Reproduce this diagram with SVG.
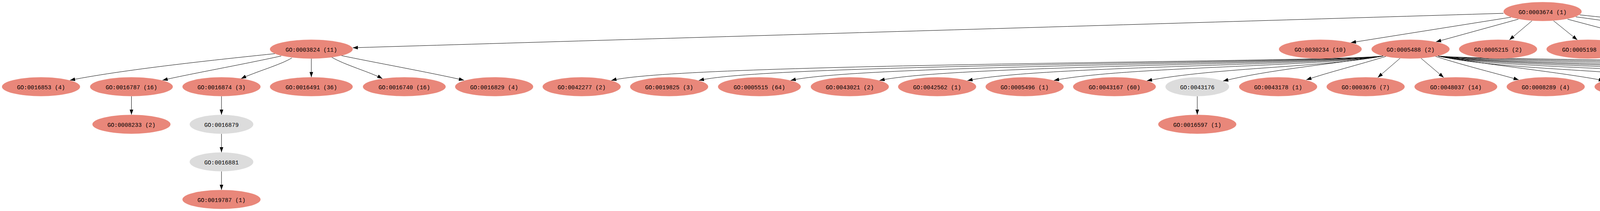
<svg xmlns="http://www.w3.org/2000/svg" width="6105" height="539" viewBox="0 0 6105 539">
<style>
.n ellipse{fill:#E9877A;stroke:none}
.g ellipse{fill:#DCDCDC;stroke:none}
text{font-family:"Liberation Mono","DejaVu Sans Mono",monospace;font-size:14.67px;text-anchor:middle;fill:#000}
#edges path{fill:none;stroke:#000;stroke-width:1;marker-end:url(#ah)}
</style>
<defs>
<marker id="ah" markerUnits="userSpaceOnUse" markerWidth="14" markerHeight="10" refX="13.3" refY="4.67" orient="auto"><path d="M0,0 L13.3,4.67 L0,9.33 z" fill="#000"/></marker>
</defs>
<rect width="6105" height="539" fill="#fff"/>
<g id="edges">
<path d="M3849,34 C3000,60 1800,95 903,122"/>
<path d="M3868,44 L3458,109"/>
<path d="M3887,49 L3676,107"/>
<path d="M3922,53 L3864,102"/>
<path d="M3977,53 L4038,102"/>
<path d="M4013,49 L4232,107"/>
<path d="M4034,43 C4200,65 4380,95 4446,109"/>
<path d="M4044,38 C4250,60 4550,85 4672,108"/>
<path d="M704,137 C600,148 330,175 179,205"/>
<path d="M720,143 C620,165 480,190 416,205"/>
<path d="M747,148 C720,165 650,185 617,201"/>
<path d="M797,150 L797,197"/>
<path d="M849,146 C880,165 950,185 979,201"/>
<path d="M874,142 C950,158 1100,185 1188,205"/>
<path d="M336.5,246 L336.5,293"/>
<path d="M567,246 L567,293"/>
<path d="M567,342 L567,389"/>
<path d="M567,438 L567,485"/>
<path d="M3065,246 L3065,293"/>
<path d="M3541,143 C3391,160 1745,160 1565,205.6"/>
<path d="M3541,143 C3391,162 1969,162 1789,205.6"/>
<path d="M3541,143 C3391,164 2204,164 2024,205.5"/>
<path d="M3541,143 C3391,166 2431,166 2251.5,205.6"/>
<path d="M3541,143 C3391,168 2656,168 2476.5,206"/>
<path d="M3541,143 C3391,170 2878,170 2698,205.4"/>
<path d="M3541,143 C3391,172 3116,172 2936,206.3"/>
<path d="M3541,143 C3400,165 3250,178 3131,207"/>
<path d="M3548,144 C3480,165 3400,185 3344,204"/>
<path d="M3584,149 L3527,198"/>
<path d="M3638,149 L3696,198"/>
<path d="M3675,144 C3750,168 3840,190 3888,204"/>
<path d="M3681,143 C3800,165 4000,185 4106,206"/>
<path d="M3681,143 C3831,178 4160,178 4340,206.5"/>
<path d="M3681,143 C3831,176 4384,176 4564,206.5"/>
<path d="M3681,143 C3831,174 4608,174 4788,206.5"/>
<path d="M3681,143 C3831,172 4832,172 5012,206.5"/>
<path d="M3681,143 C3831,170 5057,170 5237.5,206"/>
<path d="M3681,143 C3831,166 5285,166 5465.5,205.4"/>
<path d="M3681,143 C3831,162 5519,162 5699,206"/>
<path d="M3681,143 C3831,158 5741,158 5921.5,206.2"/>
</g>
<g id="n_0003674" class="n"><ellipse cx="3949" cy="29.5" rx="100" ry="24.2"/><text x="3949" y="35.5">GO:0003674 (1)</text></g>
<g id="n_0003824" class="n"><ellipse cx="797" cy="125.5" rx="106" ry="24.2"/><text x="797" y="131.5">GO:0003824 (11)</text></g>
<g id="n_0030234" class="n"><ellipse cx="3380" cy="125.5" rx="106" ry="24.2"/><text x="3380" y="131.5">GO:0030234 (10)</text></g>
<g id="n_0005488" class="n"><ellipse cx="3611" cy="125.5" rx="100" ry="24.2"/><text x="3611" y="131.5">GO:0005488 (2)</text></g>
<g id="n_0005215" class="n"><ellipse cx="3835" cy="125.5" rx="100" ry="24.2"/><text x="3835" y="131.5">GO:0005215 (2)</text></g>
<g id="n_0005198" class="n"><ellipse cx="4065" cy="125.5" rx="106" ry="24.2"/><text x="4065" y="131.5">GO:0005198 (11)</text></g>
<g id="n_0016530" class="n"><ellipse cx="4296" cy="125.5" rx="100" ry="24.2"/><text x="4296" y="131.5">GO:0016530 (1)</text></g>
<g id="n_0003774" class="n"><ellipse cx="4520" cy="125.5" rx="100" ry="24.2"/><text x="4520" y="131.5">GO:0003774 (1)</text></g>
<g id="n_0016209" class="n"><ellipse cx="4744" cy="125.5" rx="100" ry="24.2"/><text x="4744" y="131.5">GO:0016209 (8)</text></g>
<g id="n_0016853" class="n"><ellipse cx="105" cy="221.5" rx="100" ry="24.2"/><text x="105" y="227.5">GO:0016853 (4)</text></g>
<g id="n_0016787" class="n"><ellipse cx="336.5" cy="221.5" rx="106" ry="24.2"/><text x="336.5" y="227.5">GO:0016787 (16)</text></g>
<g id="n_0016874" class="n"><ellipse cx="567" cy="221.5" rx="100" ry="24.2"/><text x="567" y="227.5">GO:0016874 (3)</text></g>
<g id="n_0016491" class="n"><ellipse cx="797" cy="221.5" rx="106" ry="24.2"/><text x="797" y="227.5">GO:0016491 (36)</text></g>
<g id="n_0016740" class="n"><ellipse cx="1035" cy="221.5" rx="106" ry="24.2"/><text x="1035" y="227.5">GO:0016740 (16)</text></g>
<g id="n_0016829" class="n"><ellipse cx="1265" cy="221.5" rx="100" ry="24.2"/><text x="1265" y="227.5">GO:0016829 (4)</text></g>
<g id="n_0042277" class="n"><ellipse cx="1489" cy="221.5" rx="100" ry="24.2"/><text x="1489" y="227.5">GO:0042277 (2)</text></g>
<g id="n_0019825" class="n"><ellipse cx="1713" cy="221.5" rx="100" ry="24.2"/><text x="1713" y="227.5">GO:0019825 (3)</text></g>
<g id="n_0005515" class="n"><ellipse cx="1944" cy="221.5" rx="106" ry="24.2"/><text x="1944" y="227.5">GO:0005515 (64)</text></g>
<g id="n_0043021" class="n"><ellipse cx="2175.5" cy="221.5" rx="100" ry="24.2"/><text x="2175.5" y="227.5">GO:0043021 (2)</text></g>
<g id="n_0042562" class="n"><ellipse cx="2399" cy="221.5" rx="100" ry="24.2"/><text x="2399" y="227.5">GO:0042562 (1)</text></g>
<g id="n_0005496" class="n"><ellipse cx="2623" cy="221.5" rx="100" ry="24.2"/><text x="2623" y="227.5">GO:0005496 (1)</text></g>
<g id="n_0043167" class="n"><ellipse cx="2853" cy="221.5" rx="106" ry="24.2"/><text x="2853" y="227.5">GO:0043167 (60)</text></g>
<g id="n_0043176" class="g"><ellipse cx="3065" cy="221.5" rx="81.5" ry="24.2"/><text x="3065" y="227.5">GO:0043176</text></g>
<g id="n_0043178" class="n"><ellipse cx="3272" cy="221.5" rx="100" ry="24.2"/><text x="3272" y="227.5">GO:0043178 (1)</text></g>
<g id="n_0003676" class="n"><ellipse cx="3496" cy="221.5" rx="100" ry="24.2"/><text x="3496" y="227.5">GO:0003676 (7)</text></g>
<g id="n_0048037" class="n"><ellipse cx="3727" cy="221.5" rx="106" ry="24.2"/><text x="3727" y="227.5">GO:0048037 (14)</text></g>
<g id="n_0008289" class="n"><ellipse cx="3957" cy="221.5" rx="100" ry="24.2"/><text x="3957" y="227.5">GO:0008289 (4)</text></g>
<g id="n_0001882" class="n"><ellipse cx="4188" cy="221.5" rx="106" ry="24.2"/><text x="4188" y="227.5">GO:0001882 (34)</text></g>
<g id="n_0008144" class="n"><ellipse cx="4419" cy="221.5" rx="100" ry="24.2"/><text x="4419" y="227.5">GO:0008144 (2)</text></g>
<g id="n_0019842" class="n"><ellipse cx="4643" cy="221.5" rx="100" ry="24.2"/><text x="4643" y="227.5">GO:0019842 (1)</text></g>
<g id="n_0060090" class="n"><ellipse cx="4867" cy="221.5" rx="100" ry="24.2"/><text x="4867" y="227.5">GO:0060090 (1)</text></g>
<g id="n_0031406" class="n"><ellipse cx="5091" cy="221.5" rx="100" ry="24.2"/><text x="5091" y="227.5">GO:0031406 (2)</text></g>
<g id="n_0046906" class="n"><ellipse cx="5315" cy="221.5" rx="100" ry="24.2"/><text x="5315" y="227.5">GO:0046906 (1)</text></g>
<g id="n_0000166" class="n"><ellipse cx="5545" cy="221.5" rx="106" ry="24.2"/><text x="5545" y="227.5">GO:0000166 (45)</text></g>
<g id="n_0019840" class="n"><ellipse cx="5776" cy="221.5" rx="100" ry="24.2"/><text x="5776" y="227.5">GO:0019840 (1)</text></g>
<g id="n_0051540" class="n"><ellipse cx="6000" cy="221.5" rx="100" ry="24.2"/><text x="6000" y="227.5">GO:0051540 (1)</text></g>
<g id="n_0008233" class="n"><ellipse cx="336.5" cy="317.5" rx="100" ry="24.2"/><text x="336.5" y="323.5">GO:0008233 (2)</text></g>
<g id="n_0016879" class="g"><ellipse cx="567" cy="317.5" rx="81.5" ry="24.2"/><text x="567" y="323.5">GO:0016879</text></g>
<g id="n_0016597" class="n"><ellipse cx="3065" cy="317.5" rx="100" ry="24.2"/><text x="3065" y="323.5">GO:0016597 (1)</text></g>
<g id="n_0016881" class="g"><ellipse cx="567" cy="413.5" rx="81.5" ry="24.2"/><text x="567" y="419.5">GO:0016881</text></g>
<g id="n_0019787" class="n"><ellipse cx="567" cy="509.5" rx="100" ry="24.2"/><text x="567" y="515.5">GO:0019787 (1)</text></g>
</svg>
